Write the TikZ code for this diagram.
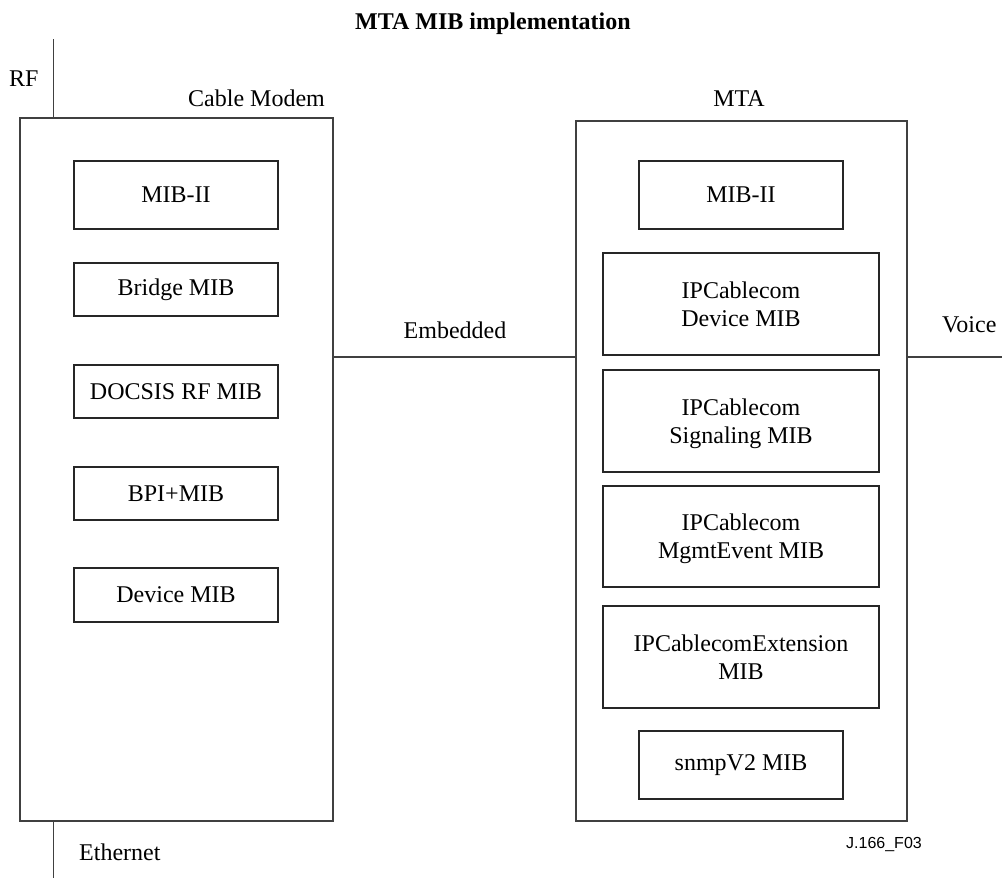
\documentclass[tikz,border=0pt]{standalone}
\usepackage{fontspec}
\setmainfont{Liberation Serif}
\newfontfamily\labsans{Liberation Sans}
\begin{document}
\begin{tikzpicture}[x=1pt,y=-1pt,
  outerbox/.style={draw=black!75,line width=1.3pt,inner sep=0pt},
  mibbox/.style={draw=black!85,line width=1.2pt,inner sep=0pt,align=center,
    font=\fontsize{24}{28}\selectfont},
  twoline/.style={text depth=0pt},
  lab/.style={inner sep=0pt,font=\fontsize{24}{28}\selectfont},
  wire/.style={draw=black!75,line width=1.3pt}]
\useasboundingbox (0,0) rectangle (1002,878);
% title
\node[lab,anchor=base,font=\fontsize{24}{28}\selectfont\bfseries] (title) at (493,29) {MTA MIB implementation};
% outer boxes
\node[outerbox,minimum width=313pt,minimum height=703pt] (cm) at (176.5,469.5) {};
\node[outerbox,minimum width=331pt,minimum height=700pt] (mta) at (741.5,471) {};
% labels
\node[lab,anchor=base west] (rf) at (9,86) {RF};
\node[lab,anchor=base west] (cmlab) at (188,106) {Cable Modem};
\node[lab,anchor=base] (mtalab) at (739,106) {MTA};
\node[lab,anchor=base] (emb) at (455,338) {Embedded};
\node[lab,anchor=base west] (voice) at (942,332) {Voice};
\node[lab,anchor=base west] (eth) at (79,860) {Ethernet};
\node[inner sep=0pt,anchor=base west,font=\labsans\fontsize{16}{18}\selectfont] (fig) at (846,848) {J.166\_F03};
% cable modem MIBs
\node[mibbox,minimum width=204pt,minimum height=68pt] (cm1) at (176,195) {MIB-II};
\node[mibbox,minimum width=204pt,minimum height=53pt] (cm2) at (176,289.5) {Bridge MIB};
\node[mibbox,minimum width=204pt,minimum height=53pt] (cm3) at (176,391.5) {DOCSIS RF MIB};
\node[mibbox,minimum width=204pt,minimum height=53pt] (cm4) at (176,493.5) {BPI+MIB};
\node[mibbox,minimum width=204pt,minimum height=54pt] (cm5) at (176,595) {Device MIB};
% MTA MIBs
\node[mibbox,minimum width=204pt,minimum height=68pt] (m1) at (741,195) {MIB-II};
\node[mibbox,twoline,minimum width=276pt,minimum height=102pt] (m2) at (741,304) {IPCablecom\\Device MIB};
\node[mibbox,twoline,minimum width=276pt,minimum height=102pt] (m3) at (741,421) {IPCablecom\\Signaling MIB};
\node[mibbox,twoline,minimum width=276pt,minimum height=101pt] (m4) at (741,536.5) {IPCablecom\\MgmtEvent MIB};
\node[mibbox,twoline,minimum width=276pt,minimum height=102pt] (m5) at (741,657) {IPCablecomExtension\\MIB};
\node[mibbox,minimum width=204pt,minimum height=68pt] (m6) at (741,765) {snmpV2 MIB};
% connectors
\coordinate (rftop) at (53.7,39);
\coordinate (ethbot) at (53.7,878);
\coordinate (embY) at (0,357);
\coordinate (voiceend) at (1002,357);
\draw[wire] (rftop) -- (rftop |- cm.north);
\draw[wire] (ethbot |- cm.south) -- (ethbot);
\draw[wire] (cm.east |- embY) -- (mta.west |- embY);
\draw[wire] (mta.east |- voiceend) -- (voiceend);
\end{tikzpicture}
\end{document}
